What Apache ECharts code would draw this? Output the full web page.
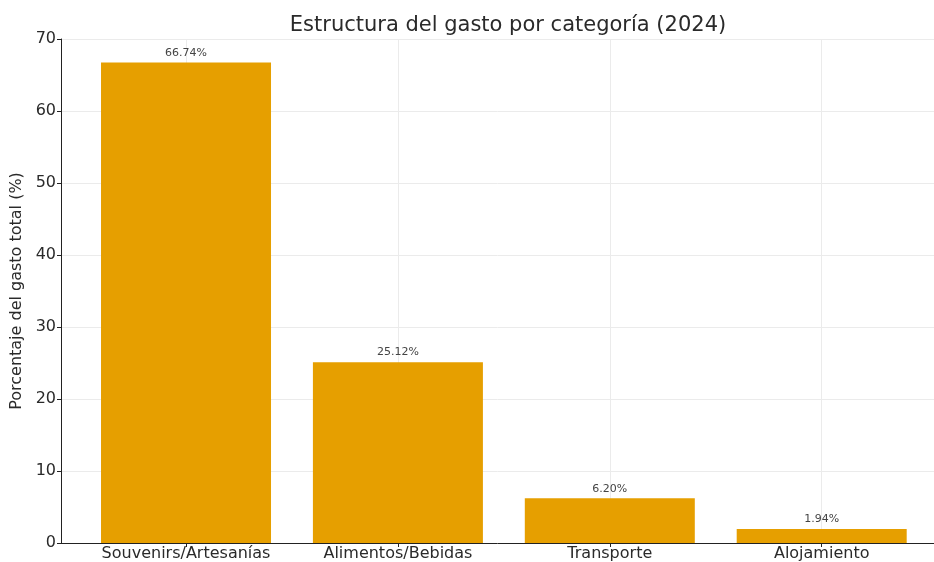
<!DOCTYPE html>
<html>
<head>
<meta charset="utf-8">
<script src="https://cdn.jsdelivr.net/npm/echarts@6/dist/echarts.min.js"></script>
<style>
  html, body { margin: 0; padding: 0; background: #fff; }
  #chart { width: 934px; height: 562px; }
</style>
</head>
<body>
<div id="chart"></div>
<script>
// Gasto por categoría, 2024 (porcentaje del gasto total)
const categories = ['Souvenirs/Artesanías', 'Alimentos/Bebidas', 'Transporte', 'Alojamiento'];
const shares = [66.74, 25.12, 6.20, 1.94];
const yTicks = [0, 10, 20, 30, 40, 50, 60, 70];

const positions = categories.map((_, i) => i);
const FONT = 'DejaVu Sans';

const chart = echarts.init(document.getElementById('chart'), null, { renderer: 'canvas' });

chart.setOption({
  animation: false,
  backgroundColor: '#ffffff',
  title: {
    text: 'Estructura del gasto por categoría (2024)',
    left: 503,
    top: 10,
    textAlign: 'center',
    textStyle: { fontFamily: FONT, fontSize: 21, fontWeight: 'normal', color: '#2a2a2a' }
  },
  grid: { left: 61, right: 0, top: 39, bottom: 19, containLabel: false },
  xAxis: {
    type: 'value',
    // the plot area continues past the right edge of the canvas
    min: -0.59,
    max: 3.53,
    axisLine: { show: true, onZero: false, lineStyle: { color: '#222', width: 1 } },
    axisTick: { show: true, customValues: positions, length: 4, lineStyle: { color: '#222' } },
    axisLabel: {
      customValues: positions,
      formatter: v => categories[Math.round(v)] || '',
      fontFamily: FONT, fontSize: 16, color: '#2a2a2a', margin: 3
    },
    splitLine: { show: true, lineStyle: { color: '#ebebeb', width: 1 } }
  },
  yAxis: {
    type: 'value',
    min: yTicks[0],
    max: yTicks[yTicks.length - 1],
    interval: 10,
    name: 'Porcentaje del gasto total (%)',
    nameLocation: 'middle',
    nameGap: 36,
    nameTextStyle: { fontFamily: FONT, fontSize: 16, color: '#2a2a2a' },
    axisLine: { show: true, onZero: false, lineStyle: { color: '#222', width: 1 } },
    axisTick: { show: true, length: 4, lineStyle: { color: '#222' } },
    axisLabel: { fontFamily: FONT, fontSize: 16, color: '#2a2a2a', margin: 5 },
    splitLine: { show: true, lineStyle: { color: '#ebebeb', width: 1 } }
  },
  series: [{
    type: 'bar',
    data: shares.map((v, i) => [positions[i], v]),
    barWidth: 170,
    itemStyle: { color: '#E69F00' },
    label: {
      show: true,
      position: 'top',
      distance: 4,
      formatter: p => p.value[1].toFixed(2) + '%',
      fontFamily: FONT, fontSize: 11, color: '#444'
    }
  }]
});
</script>
</body>
</html>
